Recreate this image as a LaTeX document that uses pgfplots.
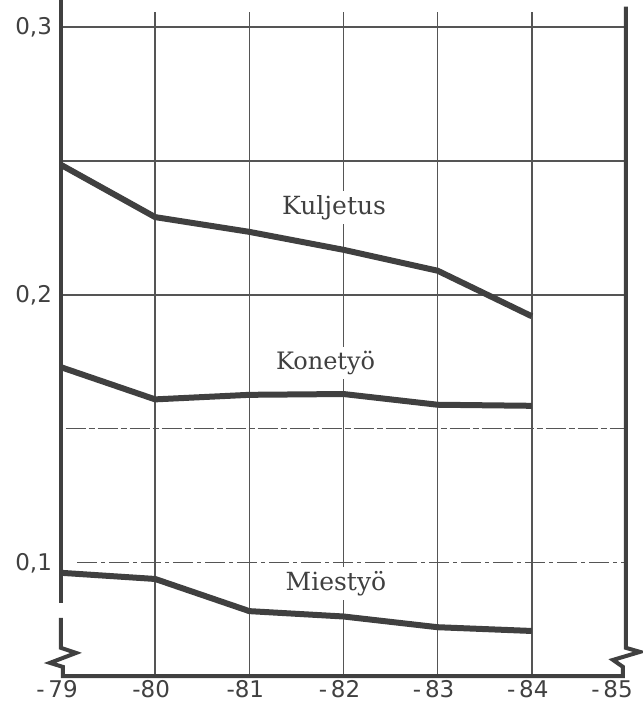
\documentclass[border=0pt]{standalone}
\usepackage{pgfplots}
\pgfplotsset{compat=1.18}
\usepackage{fontspec}
\setmainfont{DejaVu Serif}
\newfontfamily\tickfont{DejaVu Sans}
\definecolor{ink}{HTML}{404040}
\definecolor{gridc}{HTML}{555555}
\begin{document}
\begin{tikzpicture}
\begin{axis}[
  scale only axis, width=282.5pt, height=338pt,
  xmin=79, xmax=85, ymin=0.0578, ymax=0.31,
  axis line style={draw=none},
  major tick length=0pt,
  clip=false,
  xtick={79,80,81,82,83,84,85},
  xticklabels={-\,79,-80,-81,-\,82,-\,83,-\,84,\hspace*{-10pt}-\,85},
  ytick={0.1,0.2,0.3},
  yticklabels={{0,1},{0,2},{0,3}},
  ticklabel style={font=\tickfont\fontsize{11.5}{13}\selectfont, text=ink},
  yticklabel style={xshift=-1pt},
  xticklabel style={yshift=1.5pt, xshift=-2pt},
]
% vertical grid lines
\pgfplotsinvokeforeach{80,81,82,83,84}{
  \draw[gridc, line width=0.75pt] (axis cs:#1,0.0578) -- (axis cs:#1,0.3055);
}
% horizontal grid lines
\draw[gridc, line width=0.75pt] (axis cs:79,0.3) -- (axis cs:85,0.3);
\draw[gridc, line width=0.75pt] (axis cs:79,0.25) -- (axis cs:85,0.25);
\draw[gridc, line width=0.75pt] (axis cs:79,0.2) -- (axis cs:85,0.2);
\draw[gridc, line width=0.6pt, dash pattern=on 10pt off 1.5pt on 3pt off 1.5pt] (axis cs:79.05,0.15) -- (axis cs:85,0.15);
\draw[gridc, line width=0.6pt, dash pattern=on 10pt off 2pt on 2pt off 2pt] (axis cs:79.17,0.1) -- (axis cs:85,0.1);
% axis frame with breaks
\draw[ink, line width=2pt] (axis cs:79,0.31) -- (axis cs:79,0.0851);
\draw[ink, line width=2pt, line join=miter] (axis cs:79,0.0795) -- (axis cs:79,0.0683) -- (axis cs:79.16,0.0664) -- (axis cs:78.883,0.0627) -- (axis cs:79.02,0.0612) -- (axis cs:79.02,0.0578) -- (axis cs:84.968,0.0578) -- (axis cs:84.968,0.0612) -- (axis cs:84.862,0.0638) -- (axis cs:85.149,0.0668) -- (axis cs:85,0.0683) -- (axis cs:85,0.3075);
% data
\addplot[ink, line width=3pt, line join=round] coordinates {(79,0.2485) (80,0.229) (81,0.2235) (82,0.2168) (83,0.209) (84,0.192)};
\addplot[ink, line width=3pt, line join=round] coordinates {(79,0.173) (80,0.161) (81,0.1627) (82,0.163) (83,0.159) (84,0.1586)};
\addplot[ink, line width=3pt, line join=round] coordinates {(79,0.0963) (80,0.094) (81,0.082) (82,0.080) (83,0.076) (84,0.0746)};
% labels
\node[fill=white, inner sep=2pt, text=ink, font=\fontsize{12.5}{14}\selectfont] at (axis cs:81.90,0.2325) {Kuljetus};
\node[fill=white, inner sep=2pt, text=ink, font=\fontsize{12}{14}\selectfont] at (axis cs:81.81,0.1747) {Konetyö};
\node[fill=white, inner sep=2pt, text=ink, font=\fontsize{12.5}{14}\selectfont] at (axis cs:81.92,0.0922) {Miestyö};
\end{axis}
\pgfresetboundingbox
\path (current axis.south west) ++(-30.5pt,-16.5pt) rectangle ([xshift=8.5pt]current axis.north east);
\end{tikzpicture}
\end{document}
